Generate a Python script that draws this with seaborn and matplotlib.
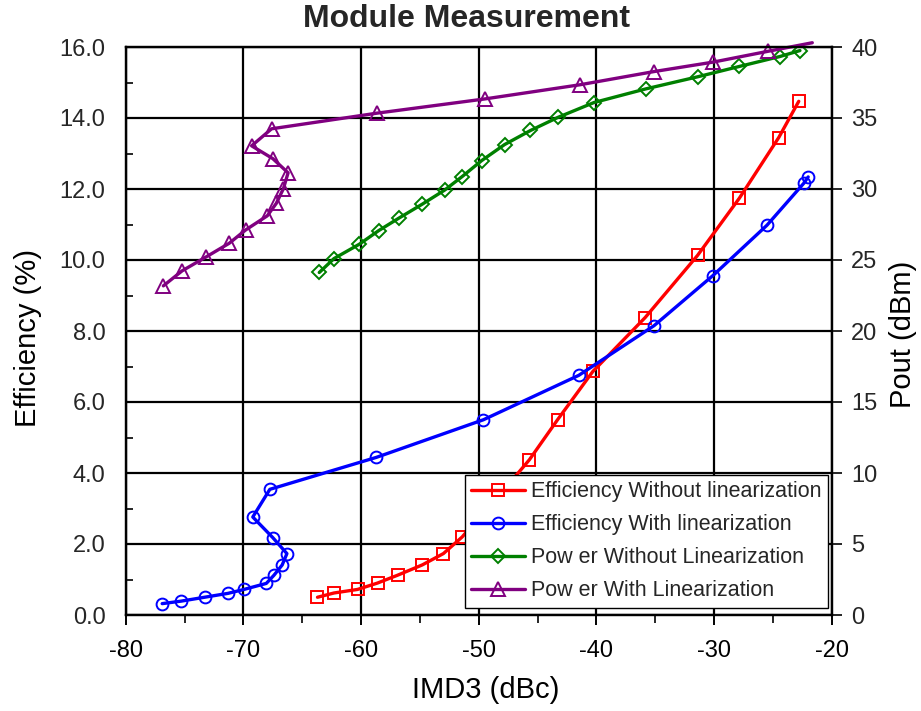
import matplotlib
matplotlib.use("Agg")
import matplotlib.pyplot as plt
import seaborn as sns
import numpy as np

# ---------------- data ----------------
title = "Module Measurement"
x_label = "IMD3 (dBc)"
y_label_left = "Efficiency (%)"
y_label_right = "Pout (dBm)"

names = ["Efficiency Without linearization", "Efficiency With linearization",
         "Pow er Without Linearization", "Pow er With Linearization"]

# Efficiency without linearization (left axis)
imd_eff_wo = [-63.7, -62.3, -60.3, -58.6, -56.9, -54.8, -53.0, -51.4, -49.75, -47.8,
              -45.7, -43.3, -40.3, -35.85, -31.4, -27.85, -24.5, -22.8]
eff_wo = [0.50, 0.62, 0.72, 0.90, 1.12, 1.41, 1.73, 2.20, 2.85, 3.55,
          4.37, 5.50, 6.86, 8.38, 10.13, 11.74, 13.45, 14.47]

# Efficiency with linearization (left axis)
imd_eff_w = [-76.9, -75.3, -73.3, -71.3, -69.95, -68.05, -67.4, -66.7, -66.3, -67.5,
             -69.2, -67.75, -58.7, -49.6, -41.5, -35.1, -30.1, -25.5, -22.35, -22.0]
eff_w = [0.32, 0.39, 0.50, 0.61, 0.72, 0.89, 1.12, 1.41, 1.73, 2.18,
         2.76, 3.54, 4.44, 5.50, 6.75, 8.15, 9.56, 10.98, 12.17, 12.34]

# Power without linearization (right axis)
imd_pow_wo = [-63.55, -62.3, -60.15, -58.5, -56.8, -54.8, -52.9, -51.4, -49.75, -47.8,
              -45.6, -43.25, -40.2, -35.8, -31.4, -27.85, -24.4, -22.7]
pow_wo = [24.12, 25.10, 26.11, 27.07, 27.94, 28.93, 29.92, 30.88, 32.00, 33.13,
          34.12, 35.05, 36.09, 37.05, 37.90, 38.63, 39.33, 39.75]

# Power with linearization (right axis)
imd_pow_w = [-76.8, -75.2, -73.2, -71.2, -69.8, -67.97, -67.2, -66.6, -66.2, -67.5,
             -69.3, -67.6, -58.65, -49.5, -41.4, -35.1, -30.05, -25.4, -21.65]
pow_w = [23.18, 24.24, 25.20, 26.18, 27.12, 28.11, 28.99, 30.02, 31.14, 32.14,
         33.04, 34.24, 35.34, 36.34, 37.34, 38.27, 38.94, 39.70, 40.30]

x_ticks = [-80, -70, -60, -50, -40, -30, -20]
y_ticks_left = [0, 2, 4, 6, 8, 10, 12, 14, 16]
y_ticks_right = [0, 5, 10, 15, 20, 25, 30, 35, 40]

colors = ["#FF0000", "#0000FF", "#008000", "#800080"]

# ---------------- style ----------------
sns.set_style("white")
plt.rcParams["font.family"] = ["Liberation Sans", "DejaVu Sans"]

fig = plt.figure(figsize=(9.21, 7.11), dpi=100)
ax = fig.add_axes([125.7 / 921, 1 - 615 / 711, (831.7 - 125.7) / 921, (615 - 47) / 711])
ax2 = ax.twinx()

lw = 2.4
common = dict(sort=False, estimator=None, legend=False, linewidth=lw,
              markerfacecolor="none", markeredgewidth=1.4)

sns.lineplot(x=imd_eff_wo, y=eff_wo, ax=ax, color=colors[0], marker="s",
             markersize=8.5, markeredgecolor=colors[0], label=names[0], **common)
sns.lineplot(x=imd_eff_w, y=eff_w, ax=ax, color=colors[1], marker="o",
             markersize=8.5, markeredgecolor=colors[1], label=names[1], **common)
sns.lineplot(x=imd_pow_wo, y=pow_wo, ax=ax2, color=colors[2], marker="D",
             markersize=7, markeredgecolor=colors[2], label=names[2], **common)
sns.lineplot(x=imd_pow_w, y=pow_w, ax=ax2, color=colors[3], marker="^",
             markersize=10, markeredgecolor=colors[3], label=names[3],
             markevery=list(range(len(pow_w) - 1)), **common)
ax2.lines[-1].set_clip_on(False)

# ---------------- axes ----------------
ax.set_xlim(-80, -20)
ax.set_ylim(0, 16)
ax2.set_ylim(0, 40)

ax.set_xticks(x_ticks)
ax.set_xticks(np.arange(-75, -20, 10), minor=True)
ax.set_xticklabels([str(v) for v in x_ticks])
ax.set_yticks(y_ticks_left)
ax.set_yticklabels([f"{v:.1f}" for v in y_ticks_left])
ax.set_yticks(np.arange(1, 16, 2), minor=True)
ax2.set_yticks(y_ticks_right)
ax2.set_yticklabels([str(v) for v in y_ticks_right])

ax.grid(True, which="major", color="black", linewidth=1.6)
ax.set_axisbelow(True)
for a in (ax, ax2):
    for s in a.spines.values():
        s.set_visible(True)
        s.set_color("black")
        s.set_linewidth(1.6)

tick_fs = 17
ax.tick_params(axis="x", which="major", direction="out", length=7, width=1.4,
               pad=11, labelsize=tick_fs, colors="black", bottom=True)
ax.tick_params(axis="x", which="minor", direction="out", length=5.5, width=1.4, bottom=True)
ax.tick_params(axis="y", which="major", direction="in", length=0, width=1.4,
               pad=14.5, labelsize=tick_fs, left=True)
ax.tick_params(axis="y", which="minor", direction="in", length=5, width=1.4, left=True)
ax2.tick_params(axis="y", which="major", direction="out", length=7, width=1.4,
                pad=7, labelsize=tick_fs, right=True)

label_fs = 21
ax.set_xlabel(x_label, fontsize=label_fs, color="black")
ax.set_ylabel(y_label_left, fontsize=label_fs, color="black")
ax2.set_ylabel(y_label_right, fontsize=label_fs, color="black")
ax.xaxis.set_label_coords((486 - 125.7) / 706, -(676 - 615) / 568)
ax.yaxis.set_label_coords(-(125.7 - 42) / 706, (615 - 338) / 568)
ax2.yaxis.set_label_coords((889 - 125.7) / 706, (615 - 334) / 568)

fig.text(466.5 / 921, 1 - 19 / 711, title, fontsize=23, fontweight="bold",
         ha="center", va="center")

# ---------------- legend ----------------
h1, l1 = ax.get_legend_handles_labels()
h2, l2 = ax2.get_legend_handles_labels()
leg = ax2.legend(h1 + h2, l1 + l2, loc="lower right",
                 bbox_to_anchor=((828.3 - 125.7) / 706, (615 - 607.7) / 568),
                 borderaxespad=0, fontsize=15.5, handlelength=2.5, handletextpad=0.3,
                 borderpad=0.3, labelspacing=0.56, frameon=True, fancybox=False,
                 framealpha=1, edgecolor="black", facecolor="white")
leg.get_frame().set_linewidth(1.0)
leg.set_zorder(10)

fig.savefig("out.png", dpi=100)
